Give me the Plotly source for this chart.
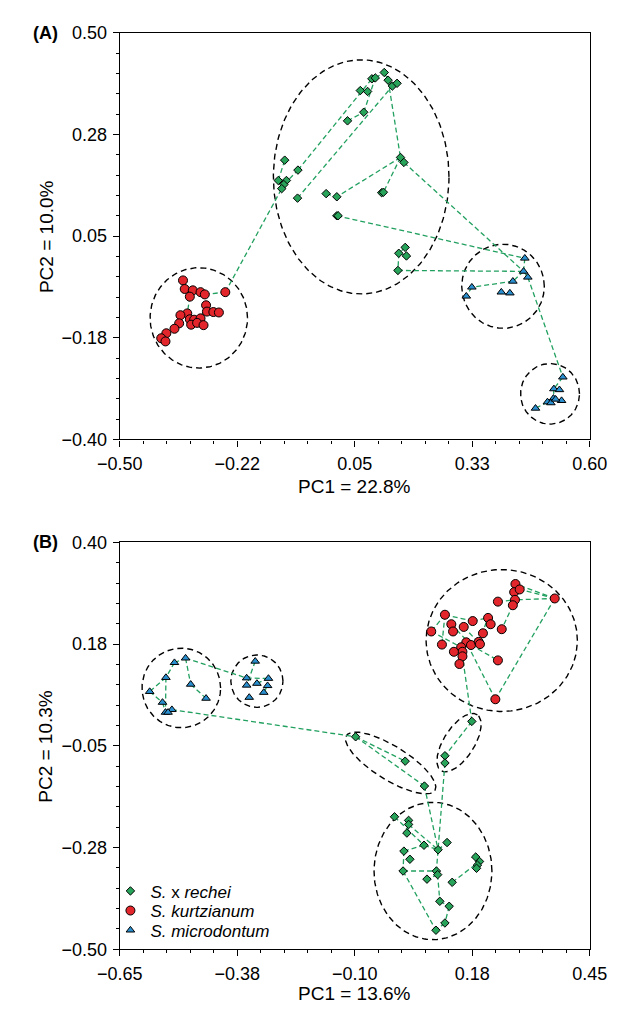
import numpy as np
import plotly.graph_objects as go

# ---------------- Panel A data ----------------
gA_x = [0.119, 0.090, 0.098, 0.128, 0.138, 0.149, 0.063, 0.080, 0.071, 0.033,
        -0.114, -0.083, -0.129, -0.110, -0.116, -0.121, -0.084, -0.017, 0.008, 0.113,
        0.117, 0.008, 0.157, 0.165, 0.168, 0.153, 0.171, 0.151, 0.011]
gA_y = [0.412, 0.398, 0.400, 0.395, 0.382, 0.388, 0.372, 0.370, 0.324, 0.305,
        0.218, 0.196, 0.173, 0.173, 0.164, 0.155, 0.134, 0.144, 0.137, 0.146,
        0.147, 0.095, 0.224, 0.213, 0.025, 0.012, 0.006, -0.026, 0.095]
rA_x = [-0.352, -0.348, -0.329, -0.336, -0.311, -0.301, -0.253, -0.298, -0.296, -0.281,
        -0.268, -0.342, -0.358, -0.336, -0.326, -0.311, -0.333, -0.319, -0.304, -0.361,
        -0.372, -0.391, -0.403, -0.393]
rA_y = [-0.048, -0.067, -0.070, -0.084, -0.074, -0.079, -0.074, -0.103, -0.117, -0.118,
        -0.119, -0.121, -0.125, -0.134, -0.135, -0.132, -0.146, -0.142, -0.147, -0.143,
        -0.155, -0.165, -0.176, -0.183]
bA_x = [0.448, 0.445, 0.455, 0.420, 0.324, 0.311, 0.393, 0.413,
        0.537, 0.516, 0.529, 0.515, 0.501, 0.509, 0.534, 0.520, 0.473]
bA_y = [0.001, -0.028, -0.041, -0.050, -0.063, -0.083, -0.074, -0.076,
        -0.262, -0.288, -0.290, -0.309, -0.317, -0.319, -0.314, -0.311, -0.331]
edges_A = [("g", 12, "g", 10), ("g", 14, "g", 11), ("g", 11, "g", 1), ("g", 16, "g", 4),
           ("g", 9, "g", 8), ("g", 8, "g", 2), ("g", 1, "g", 2), ("g", 2, "g", 0),
           ("g", 0, "g", 3), ("g", 3, "g", 4), ("g", 4, "g", 5), ("g", 6, "g", 7),
           ("g", 3, "g", 22), ("g", 22, "g", 23), ("g", 22, "g", 18), ("g", 17, "g", 18),
           ("g", 22, "g", 20), ("g", 19, "g", 20), ("g", 21, "g", 28), ("g", 24, "g", 25),
           ("g", 25, "g", 26), ("g", 25, "g", 27), ("g", 12, "g", 13), ("g", 13, "g", 14),
           ("g", 14, "g", 15),
           ("r", 6, "g", 15), ("g", 23, "b", 1), ("g", 21, "b", 0), ("g", 27, "b", 1),
           ("b", 0, "b", 1), ("b", 1, "b", 3), ("b", 3, "b", 4), ("b", 4, "b", 5),
           ("b", 1, "b", 2), ("b", 2, "b", 8), ("b", 8, "b", 9), ("b", 9, "b", 11),
           ("b", 11, "b", 12), ("b", 12, "b", 16),
           ("r", 5, "r", 6), ("r", 3, "r", 11), ("r", 1, "r", 4), ("r", 7, "r", 15),
           ("r", 8, "r", 15)]
# ellipses: centre x, centre y, semi-axis x, semi-axis y, angle (deg)
ellA_cx = [-0.315, 0.065, 0.397, 0.507]
ellA_cy = [-0.131, 0.181, -0.061, -0.299]
ellA_rx = [0.114, 0.2055, 0.0966, 0.069]
ellA_ry = [0.111, 0.259, 0.093, 0.067]
ellA_ang = [0, 0, 0, 0]

# ---------------- Panel B data ----------------
gB_x = [-0.098, 0.018, 0.063, 0.174, 0.111, 0.111, -0.007, 0.026, 0.026, 0.022,
        0.062, 0.095, 0.116, 0.015, 0.029, 0.013, 0.091, 0.094, 0.069, 0.128,
        0.183, 0.192, 0.187, 0.185, 0.099, 0.121, 0.111, 0.090]
gB_y = [-0.030, -0.084, -0.139, 0.004, -0.072, -0.088, -0.207, -0.215, -0.224, -0.243,
        -0.270, -0.280, -0.264, -0.283, -0.301, -0.327, -0.327, -0.335, -0.345, -0.352,
        -0.296, -0.306, -0.314, -0.321, -0.394, -0.405, -0.442, -0.458]
rB_x = [0.276, 0.273, 0.286, 0.275, 0.270, 0.235, 0.368, 0.111, 0.126, 0.176,
        0.212, 0.218, 0.079, 0.130, 0.155, 0.244, 0.200, 0.104, 0.161, 0.172,
        0.190, 0.193, 0.149, 0.152, 0.132, 0.152, 0.235, 0.145, 0.229]
rB_y = [0.308, 0.290, 0.296, 0.273, 0.261, 0.269, 0.276, 0.240, 0.219, 0.226,
        0.233, 0.219, 0.203, 0.203, 0.213, 0.208, 0.199, 0.174, 0.179, 0.173,
        0.180, 0.175, 0.168, 0.158, 0.158, 0.148, 0.139, 0.131, 0.053]
bB_x = [-0.496, -0.522, -0.542, -0.484, -0.580, -0.448, -0.550, -0.528, -0.543, -0.537,
        -0.333, -0.353, -0.302, -0.329, -0.353, -0.304, -0.313, -0.347]
bB_y = [0.144, 0.134, 0.101, 0.086, 0.070, 0.055, 0.046, 0.030, 0.024, 0.024,
        0.137, 0.100, 0.099, 0.088, 0.084, 0.083, 0.068, 0.057]
edges_B = [("b", 1, "b", 0), ("b", 0, "b", 3), ("b", 3, "b", 5), ("b", 1, "b", 2),
           ("b", 2, "b", 4), ("b", 4, "b", 6), ("b", 6, "b", 8), ("b", 2, "b", 8),
           ("b", 0, "b", 11), ("b", 10, "b", 14), ("b", 11, "b", 12), ("b", 13, "b", 12),
           ("b", 16, "b", 15), ("b", 7, "g", 0),
           ("g", 0, "g", 1), ("g", 0, "g", 2), ("g", 2, "g", 11), ("g", 3, "g", 4),
           ("g", 4, "g", 5), ("g", 5, "g", 16), ("g", 3, "r", 25), ("g", 6, "g", 10),
           ("g", 7, "g", 8), ("g", 8, "g", 9), ("g", 8, "g", 11), ("g", 10, "g", 11),
           ("g", 11, "g", 12), ("g", 13, "g", 10), ("g", 13, "g", 15), ("g", 15, "g", 16),
           ("g", 16, "g", 17), ("g", 17, "g", 18), ("g", 19, "g", 21), ("g", 15, "g", 27),
           ("g", 17, "g", 24), ("g", 24, "g", 25), ("g", 25, "g", 26), ("g", 26, "g", 27),
           ("g", 20, "g", 21), ("g", 22, "g", 23),
           ("r", 6, "r", 0), ("r", 6, "r", 2), ("r", 6, "r", 3), ("r", 5, "r", 3),
           ("r", 6, "r", 28), ("r", 28, "r", 18), ("r", 4, "r", 15), ("r", 7, "r", 12),
           ("r", 7, "r", 9), ("r", 7, "r", 17), ("r", 8, "r", 19), ("r", 19, "r", 26),
           ("r", 16, "r", 11), ("r", 14, "r", 21), ("r", 12, "r", 22), ("r", 9, "r", 10),
           ("r", 20, "r", 10), ("r", 1, "r", 3)]
ellB_cx = [0.244, -0.506, -0.329, -0.016, 0.144, 0.083]
ellB_cy = [0.183, 0.078, 0.093, -0.088, -0.043, -0.327]
ellB_rx = [0.177, 0.092, 0.061, 0.120, 0.075, 0.138]
ellB_ry = [0.157, 0.088, 0.058, 0.038, 0.035, 0.152]
ellB_ang = [0, 0, 0, -30, 55, 0]

# axis ticks
A_xticks = [-0.50, -0.225, 0.05, 0.325, 0.60]
A_xtext = ["\u22120.50", "\u22120.22", "0.05", "0.33", "0.60"]
A_yticks = [-0.40, -0.175, 0.05, 0.275, 0.50]
A_ytext = ["\u22120.40", "\u22120.18", "0.05", "0.28", "0.50"]
B_xticks = [-0.65, -0.375, -0.10, 0.175, 0.45]
B_xtext = ["\u22120.65", "\u22120.38", "\u22120.10", "0.18", "0.45"]
B_yticks = [-0.50, -0.275, -0.05, 0.175, 0.40]
B_ytext = ["\u22120.50", "\u22120.28", "\u22120.05", "0.18", "0.40"]

species = ["<i>S.</i> x <i>rechei</i>", "<i>S. kurtzianum</i>", "<i>S. microdontum</i>"]

GREEN = "#27a35a"
RED = "#e3262b"
BLUE = "#2a8fcf"
LINE_GREEN = "#22a060"
FONT = "Liberation Sans, Arial, sans-serif"

fig = go.Figure()


def add_panel(xa, ya, groups, edges, ell, legend):
    # ellipses
    t = np.linspace(0, 2 * np.pi, 240)
    ex, ey = [], []
    for cx, cy, rx, ry, ang in zip(*ell):
        a = np.deg2rad(ang)
        px = cx + rx * np.cos(t) * np.cos(a) - ry * np.sin(t) * np.sin(a)
        py = cy + rx * np.cos(t) * np.sin(a) + ry * np.sin(t) * np.cos(a)
        ex += list(px) + [None]
        ey += list(py) + [None]
    fig.add_trace(go.Scatter(x=ex, y=ey, mode="lines", xaxis=xa, yaxis=ya,
                             line=dict(color="black", width=1.4, dash="6px,4px"),
                             showlegend=False, hoverinfo="skip"))
    # network edges
    lx, ly = [], []
    for g1, i1, g2, i2 in edges:
        lx += [groups[g1][0][i1], groups[g2][0][i2], None]
        ly += [groups[g1][1][i1], groups[g2][1][i2], None]
    fig.add_trace(go.Scatter(x=lx, y=ly, mode="lines", xaxis=xa, yaxis=ya,
                             line=dict(color=LINE_GREEN, width=1.3, dash="5px,3px"),
                             showlegend=False, hoverinfo="skip"))
    # markers
    specs = [("g", species[0], "diamond", GREEN, 6.5, "legend"),
             ("r", species[1], "circle", RED, 9, "legend2"),
             ("b", species[2], "triangle-up", BLUE, 7.5, "legend3")]
    for key, name, sym, col, sz, lg in specs:
        fig.add_trace(go.Scatter(x=groups[key][0], y=groups[key][1], mode="markers",
                                 xaxis=xa, yaxis=ya, name=name, showlegend=legend,
                                 legend=lg,
                                 marker=dict(symbol=sym, color=col, size=sz,
                                             line=dict(color="black", width=1))))


add_panel("x", "y", {"g": (gA_x, gA_y), "r": (rA_x, rA_y), "b": (bA_x, bA_y)},
          edges_A, (ellA_cx, ellA_cy, ellA_rx, ellA_ry, ellA_ang), False)
add_panel("x2", "y2", {"g": (gB_x, gB_y), "r": (rB_x, rB_y), "b": (bB_x, bB_y)},
          edges_B, (ellB_cx, ellB_cy, ellB_rx, ellB_ry, ellB_ang), True)

W, H = 625, 1011


def px_x(p):
    return p / W


def px_y(p):
    return 1 - p / H


def axis(rng, vals, text, dom, anchor, minor_dt, minor_t0):
    return dict(range=rng, domain=dom, anchor=anchor, tickmode="array", tickvals=vals,
                ticktext=text, showline=True, linecolor="black", linewidth=1.3,
                mirror=True, ticks="outside", ticklen=6, tickwidth=1.2, tickcolor="black",
                showgrid=False, zeroline=False, ticklabelstandoff=2,
                tickfont=dict(family=FONT, size=18, color="black"),
                minor=dict(ticks="outside", ticklen=3, tickwidth=1, tickcolor="black",
                           tickmode="linear", dtick=minor_dt, tick0=minor_t0, showgrid=False))


def leg(yc):
    return dict(x=px_x(85), y=px_y(yc), xanchor="left", yanchor="middle",
                bgcolor="rgba(0,0,0,0)", font=dict(family=FONT, size=17, color="black"),
                itemwidth=30, tracegroupgap=0)


xdom = [px_x(95), px_x(598)]
fig.update_layout(
    width=W, height=H, margin=dict(l=0, r=0, t=0, b=0),
    paper_bgcolor="white", plot_bgcolor="white",
    font=dict(family=FONT, size=18, color="black"),
    xaxis=axis([-0.50, 0.60], A_xticks, A_xtext, xdom, "y", 0.055, -0.50),
    yaxis=axis([-0.40, 0.50], A_yticks, A_ytext, [px_y(430), px_y(15)], "x", 0.045, -0.40),
    xaxis2=axis([-0.65, 0.45], B_xticks, B_xtext, xdom, "y2", 0.055, -0.65),
    yaxis2=axis([-0.50, 0.40], B_yticks, B_ytext, [px_y(950), px_y(535)], "x2", 0.045, -0.50),
    legend=leg(891), legend2=leg(911), legend3=leg(931),
    showlegend=True,
)

ann = [
    dict(text="PC1 = 22.8%", x=(xdom[0] + xdom[1]) / 2, y=px_y(478)),
    dict(text="PC1 = 13.6%", x=(xdom[0] + xdom[1]) / 2, y=px_y(995)),
]
for a in ann:
    fig.add_annotation(text=a["text"], x=a["x"], y=a["y"], xref="paper", yref="paper",
                       showarrow=False, xanchor="center", yanchor="middle",
                       font=dict(family=FONT, size=19, color="black"))
for txt, yc in [("PC2 = 10.0%", (15 + 430) / 2), ("PC2 = 10.3%", (535 + 950) / 2)]:
    fig.add_annotation(text=txt, x=px_x(16), y=px_y(yc), xref="paper", yref="paper",
                       showarrow=False, textangle=-90, xanchor="center", yanchor="middle",
                       font=dict(family=FONT, size=19, color="black"))
for txt, yc in [("<b>(A)</b>", 15), ("<b>(B)</b>", 535)]:
    fig.add_annotation(text=txt, x=0, y=px_y(yc), xref="paper", yref="paper",
                       showarrow=False, xanchor="left", yanchor="middle",
                       font=dict(family=FONT, size=18, color="black"))

fig.write_html("out.html")
